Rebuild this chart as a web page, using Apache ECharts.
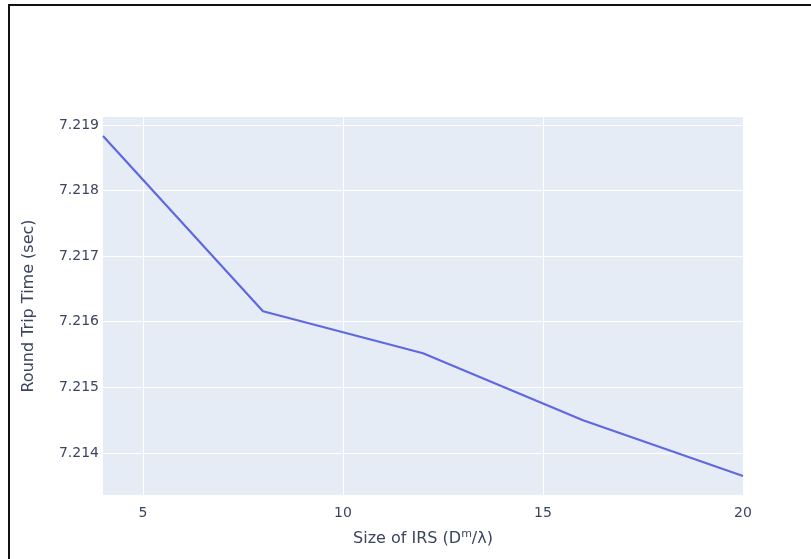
<!DOCTYPE html>
<html>
<head>
<meta charset="utf-8">
<script src="https://cdn.jsdelivr.net/npm/echarts@6/dist/echarts.min.js"></script>
<style>html,body{margin:0;padding:0;background:#fff}#c{width:811px;height:559px}</style>
</head>
<body>
<div id="c"></div>
<script>
const sizes = [4, 8, 12, 16, 20];
const rtt = [7.21883, 7.21616, 7.21552, 7.21450, 7.21365];
const xTicks = [5, 10, 15, 20];
const yTicks = [7.214, 7.215, 7.216, 7.217, 7.218, 7.219];

const chart = echarts.init(document.getElementById('c'));
const font = '"DejaVu Sans", Verdana, sans-serif';
const txt = '#3a4560';
chart.setOption({
  animation: false,
  backgroundColor: '#fff',
  grid: {left: 103, right: 68, top: 117, bottom: 64, show: true, backgroundColor: '#E5ECF6', borderWidth: 0},
  xAxis: {
    type: 'value', min: 4, max: 20,
    name: '{a|Size of IRS (D}{s|m}{a|/λ)}',
    nameLocation: 'middle', nameGap: 34,
    nameTextStyle: {rich: {a: {fontFamily: font, fontSize: 16, color: txt}, s: {fontFamily: font, fontSize: 11, color: txt, verticalAlign: 'top', padding: [0, 0, 8, 0]}}},
    axisLine: {show: false}, axisTick: {show: false, customValues: xTicks},
    axisLabel: {customValues: xTicks, fontFamily: font, fontSize: 14, color: txt, margin: 11},
    splitLine: {show: true, lineStyle: {color: '#fff', width: 1}}
  },
  yAxis: {
    type: 'value', min: 7.21336, max: 7.21912,
    name: 'Round Trip Time (sec)', nameLocation: 'middle', nameGap: 66,
    nameTextStyle: {fontFamily: font, fontSize: 16, color: txt},
    axisLine: {show: false}, axisTick: {show: false, customValues: yTicks},
    axisLabel: {customValues: yTicks, fontFamily: font, fontSize: 14, color: txt, margin: 4, formatter: v => v.toFixed(3)},
    splitLine: {show: true, lineStyle: {color: '#fff', width: 1}}
  },
  series: [{
    type: 'line', data: sizes.map((x, i) => [x, rtt[i]]),
    showSymbol: false, symbol: 'none',
    lineStyle: {color: '#5f68e0', width: 2.2}
  }],
  graphic: [
    {type: 'line', shape: {x1: 9, y1: 5, x2: 9, y2: 559}, style: {stroke: '#111', lineWidth: 2}},
    {type: 'line', shape: {x1: 8, y1: 5, x2: 811, y2: 5}, style: {stroke: '#111', lineWidth: 2}}
  ]
});
</script>
</body>
</html>
